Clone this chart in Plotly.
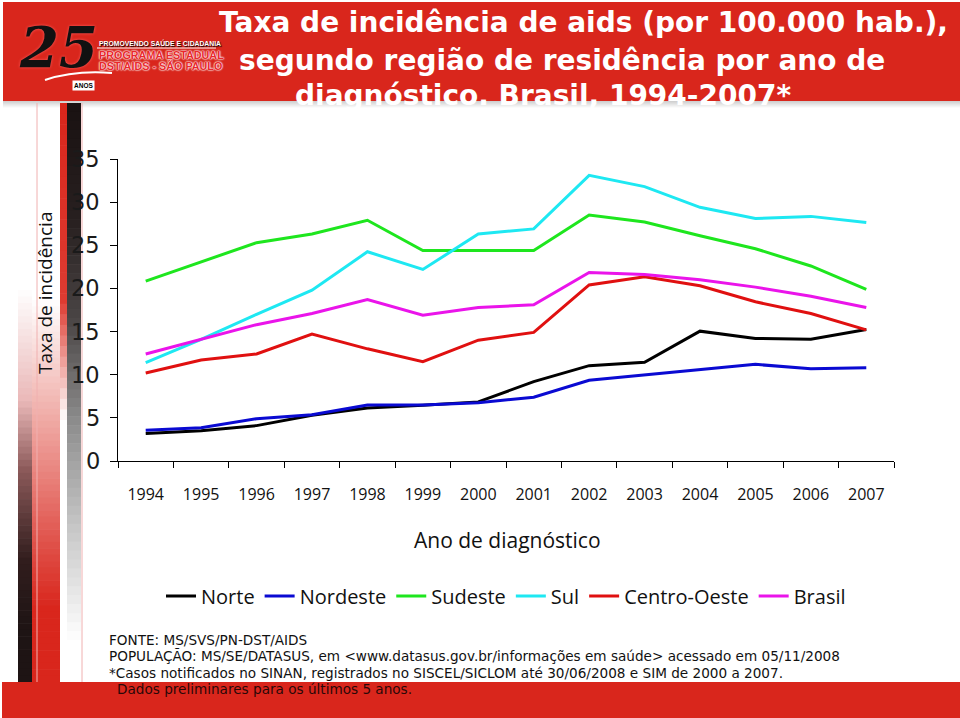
import plotly.graph_objects as go

# ---------------- data ----------------
years = [str(y) for y in range(1994, 2008)]
series_names = ["Norte", "Nordeste", "Sudeste", "Sul", "Centro-Oeste", "Brasil"]
norte = [3.2, 3.5, 4.1, 5.3, 6.15, 6.45, 6.85, 9.2, 11.05, 11.45, 15.05, 14.2, 14.1, 15.25]
nordeste = [3.55, 3.85, 4.9, 5.35, 6.5, 6.5, 6.75, 7.4, 9.35, 9.95, 10.55, 11.2, 10.7, 10.8]
sudeste = [20.85, 23.1, 25.3, 26.3, 27.9, 24.4, 24.4, 24.4, 28.5, 27.7, 26.1, 24.6, 22.6, 19.9]
sul = [11.4, 14.1, 17.0, 19.8, 24.25, 22.2, 26.3, 26.9, 33.1, 31.8, 29.4, 28.1, 28.35, 27.65]
centro_oeste = [10.2, 11.7, 12.4, 14.7, 13.0, 11.5, 14.0, 14.9, 20.4, 21.35, 20.3, 18.45, 17.1, 15.2]
brasil = [12.4, 14.1, 15.8, 17.1, 18.7, 16.9, 17.8, 18.1, 21.85, 21.6, 21.0, 20.15, 19.1, 17.8]
y_ticks = [0, 5, 10, 15, 20, 25, 30, 35]

title_lines = ["Taxa de incidência de aids (por 100.000 hab.),",
               "segundo região de residência por ano de",
               "diagnóstico. Brasil, 1994-2007*"]
footer_lines = ["FONTE: MS/SVS/PN-DST/AIDS",
                "POPULAÇÃO: MS/SE/DATASUS, em &lt;www.datasus.gov.br/informações em saúde&gt; acessado em 05/11/2008",
                "*Casos notificados no SINAN, registrados no SISCEL/SICLOM até 30/06/2008 e SIM de 2000 a 2007.",
                "Dados preliminares para os últimos 5 anos."]

colors = ["#000000", "#0a0ad2", "#1ee61e", "#1ee8f2", "#e01010", "#ea14ea"]
values = [norte, nordeste, sudeste, sul, centro_oeste, brasil]

# ---------------- geometry helpers ----------------
W, H = 960, 718
L, R, T, B = 118, 66, 159, 257
PW, PH = W - L - R, H - T - B


def px(x):
    return (x - L) / PW


def py(y):
    return (H - B - y) / PH


fig = go.Figure()
for name, vals, col in zip(series_names, values, colors):
    fig.add_trace(go.Scatter(x=years, y=vals, name=name, mode="lines",
                             line=dict(color=col, width=3)))

shapes = []


def rect(x0, x1, y0, y1, color):
    shapes.append(dict(type="rect", xref="paper", yref="paper",
                       x0=px(x0), x1=px(x1), y0=py(y1), y1=py(y0),
                       fillcolor=color, line=dict(width=0), layer="below"))


def grad(x0, x1, stops, n=60, overlap=0.6):
    # stops: list of (y, (r,g,b)) opaque colours
    ytop, ybot = stops[0][0], stops[-1][0]
    step = (ybot - ytop) / n
    for i in range(n):
        ya = ytop + i * step
        ym = ya + step / 2
        s0, s1 = stops[0], stops[1]
        for j in range(len(stops) - 1):
            if stops[j][0] <= ym <= stops[j + 1][0]:
                s0, s1 = stops[j], stops[j + 1]
                break
        t = (ym - s0[0]) / (s1[0] - s0[0])
        c = [s0[1][k] + (s1[1][k] - s0[1][k]) * t for k in range(3)]
        rect(x0, x1, ya, min(ya + step + overlap, ybot),
             "rgb(%d,%d,%d)" % (c[0], c[1], c[2]))


RED = (217, 38, 28)
WHITE = (255, 255, 255)
# header band
rect(3, 960, 2, 101, "rgb(217,38,28)")
grad(3, 960, [(101, (205, 205, 205)), (108, WHITE)], n=7)
# bottom band
rect(2, 960, 682, 718, "rgb(217,38,28)")

# left decorations
grad(67, 81, [(103, (26, 18, 18)), (220, (40, 32, 32)), (320, (75, 70, 70)),
              (420, (140, 140, 140)), (520, (195, 195, 195)), (600, (235, 235, 235)),
              (640, WHITE)])
grad(60, 67, [(103, RED), (300, (222, 60, 50)), (420, WHITE)], n=30)
grad(32, 60, [(300, WHITE), (420, (240, 170, 165)), (560, (222, 70, 62)),
              (610, RED), (682, RED)])
grad(18, 32, [(290, WHITE), (400, (235, 185, 185)), (470, (140, 90, 90)),
              (560, (50, 30, 30)), (630, (30, 20, 20)), (682, (30, 20, 20))])
for xl in (37, 82):
    shapes.append(dict(type="line", xref="paper", yref="paper",
                       x0=px(xl), x1=px(xl), y0=py(103), y1=py(682),
                       line=dict(color="#f0b0b0", width=1), layer="below"))
# logo underline and swoosh
shapes.append(dict(type="line", xref="paper", yref="paper",
                   x0=px(97), x1=px(216), y0=py(48), y1=py(48),
                   line=dict(color="#ffffff", width=1)))
shapes.append(dict(type="path", xref="paper", yref="paper",
                   path="M %f %f Q %f %f %f %f" % (px(45), py(80), px(75), py(70), px(112), py(73)),
                   line=dict(color="#ffffff", width=2)))

annotations = []


def ann(text, x, y, size, color, family, xanchor="center", weight="normal",
        style="normal", textangle=0, shadow=None, bg=None, yref="paper"):
    f = dict(size=size, color=color, family=family, weight=weight, style=style)
    if shadow:
        f["shadow"] = shadow
    d = dict(text=text, x=px(x), y=py(y) if yref == "paper" else y, xref="paper",
             yref=yref, xanchor=xanchor, yanchor="middle", showarrow=False, font=f,
             textangle=textangle)
    if bg:
        d["bgcolor"] = bg
    annotations.append(d)


# title
ann(title_lines[0], 583, 22, 28, "white", "DejaVu Sans", weight="bold")
ann(title_lines[1], 562, 60, 28, "white", "DejaVu Sans", weight="bold")
ann(title_lines[2], 543, 95, 28, "white", "DejaVu Sans", weight="bold")

# logo
WGLOW = "0px 0px 2px #ffffff, 0px 0px 2px #ffffff, 0px 0px 1px #ffffff"
ann("25", 58, 47, 56, "#111111", "DejaVu Serif", weight="bold", style="italic",
    shadow="0px 0px 3px #ff6060")
ann("ANOS", 83, 85, 6.5, "#000000", "Liberation Sans", weight="bold", bg="#ffffff")
ann("PROMOVENDO SAÚDE E CIDADANIA", 97, 43, 6.8, "#ffffff", "Liberation Sans",
    xanchor="left", weight="bold", shadow="1px 1px 1px #000000")
ann("PROGRAMA ESTADUAL", 97, 55, 10.8, "#e8282c", "Liberation Sans", xanchor="left",
    weight="bold", shadow=WGLOW)
ann("DST/AIDS - SÃO PAULO", 97, 66, 10.8, "#e8282c", "Liberation Sans", xanchor="left",
    weight="bold", shadow=WGLOW)

# y tick labels (drawn on top of the decorative bars)
for v in y_ticks:
    ann(str(v), 102, v, 22.5, "#1a1a1a", "DejaVu Sans", xanchor="right", yref="y")

# axis titles
ann("Taxa de incidência", 45, 293, 19, "#111111", "Open Sans", textangle=-90)
ann("Ano de diagnóstico", 507, 540, 21, "#111111", "Open Sans")

# footer
for i, line in enumerate(footer_lines):
    ann(line, 107 if i < 3 else 115, 640 + i * 16.4, 13.6,
        "#111111" if i < 3 else "#2a0808", "DejaVu Sans", xanchor="left")

fig.update_layout(
    width=W, height=H, autosize=False,
    margin=dict(l=L, r=R, t=T, b=B, pad=0),
    paper_bgcolor="white", plot_bgcolor="white",
    showlegend=True,
    legend=dict(orientation="h", x=0.5, xanchor="center", y=py(596), yanchor="middle",
                font=dict(family="Open Sans", size=20, color="#111111"),
                bgcolor="rgba(0,0,0,0)", itemwidth=30, tracegroupgap=0),
    shapes=shapes, annotations=annotations,
    xaxis=dict(type="category", range=[-0.5, 13.5], showline=True, linecolor="#000000",
               linewidth=1.3, ticks="outside", ticklen=6, tickcolor="#000000",
               tickson="boundaries", showgrid=False, zeroline=False,
               tickfont=dict(family="Open Sans", size=16, color="#111111"),
               ticklabelstandoff=19),
    yaxis=dict(range=[0, 35], tickvals=y_ticks, showline=True, linecolor="#000000",
               linewidth=1.3, ticks="outside", ticklen=7, tickcolor="#000000",
               showgrid=False, zeroline=False, showticklabels=False),
)

fig.write_html("out.html", config={"displayModeBar": False},
               post_script="document.body.style.margin='0';document.body.style.overflow='hidden';")
